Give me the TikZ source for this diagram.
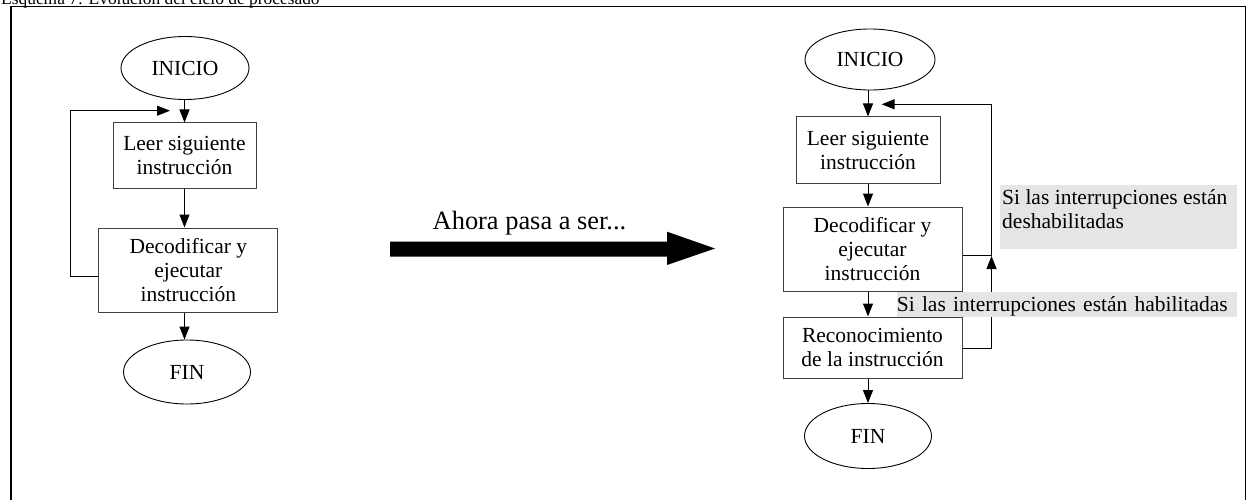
\documentclass[tikz,border=0pt]{standalone}
\usepackage{fontspec}
\setmainfont{Liberation Serif}
\usetikzlibrary{shapes.geometric,arrows.meta}

\newcommand{\flowfont}{\fontsize{21.5}{24}\selectfont}

\tikzset{
  stepbox/.style={draw=black!75, line width=1pt, rectangle, inner sep=0pt,
    align=center, font=\flowfont},
  term/.style={draw=black, line width=0.9pt, ellipse, inner sep=0pt, font=\flowfont},
  flow/.style={draw=black, line width=1pt, -{Triangle[length=13pt,width=10pt]}},
  note/.style={fill=gray!20, inner sep=0pt},
}

\begin{document}
\begin{tikzpicture}[x=1pt,y=-1pt]
\useasboundingbox (0,0) rectangle (1247,500);
\clip (0,0) rectangle (1247,500);

% caption above the frame
\node[anchor=base west, inner sep=0pt, font=\fontsize{17.4}{20}\selectfont]
  (caption) at (1,4.5) {Esquema 7: Evolución del ciclo de procesado};

% open frame
\draw[line width=1.2pt] (11,520) -- (11,6.5) -- (1245.5,6.5) -- (1245.5,520);

% ---------- original cycle ----------
\node[term, minimum width=128pt, minimum height=63pt] (ini1) at (185,68) {INICIO};
\node[stepbox, minimum width=143pt, minimum height=65pt] (leer1) at (184.5,155.5)
  {Leer siguiente\\instrucción};
\node[stepbox, minimum width=179pt, minimum height=84pt] (dec1) at (188.3,270)
  {Decodificar y\\ejecutar\\instrucción};
\node[term, minimum width=127pt, minimum height=64pt] (fin1) at (187,372) {FIN};

\draw[flow] (leer1.north |- ini1.south) -- (leer1.north);
\draw[flow] (leer1.south) -- (leer1.south |- dec1.north);
\draw[flow] (leer1.south |- dec1.south) -- (leer1.south |- fin1.north);

\coordinate (cornerL) at (70.7,110.7);
\coordinate (back1) at (170,110.7);
\draw[flow] ([yshift=-6pt]dec1.west) -| (cornerL) -- (back1);

% ---------- transition arrow ----------
\node[anchor=base, inner sep=0pt, font=\fontsize{26.4}{30}\selectfont]
  (ahora) at (529.5,229.3) {Ahora pasa a ser...};
\fill[black] (390,241.7) -- (667,241.7) -- (667,231.7) -- (715,248.5)
  -- (667,265) -- (667,256.7) -- (390,256.7) -- cycle;

% ---------- cycle with interrupts ----------
\node[term, minimum width=130pt, minimum height=61pt] (ini2) at (870,59.5) {INICIO};
\node[stepbox, minimum width=144pt, minimum height=66pt] (leer2) at (868,150)
  {Leer siguiente\\instrucción};
\node[stepbox, minimum width=179pt, minimum height=84pt] (dec2) at (872.5,249)
  {Decodificar y\\ejecutar\\instrucción};
\node[stepbox, minimum width=179pt, minimum height=61pt] (rec2) at (872.5,347.5)
  {Reconocimiento\\de la instrucción};
\node[term, minimum width=127pt, minimum height=65pt] (fin2) at (868,436) {FIN};

\draw[flow] (leer2.north |- ini2.south) -- (leer2.north);
\draw[flow] (leer2.south) -- (leer2.south |- dec2.north);
\draw[flow] (leer2.south |- dec2.south) -- (leer2.south |- rec2.north);
\draw[flow] (leer2.south |- rec2.south) -- (leer2.south |- fin2.north);

\coordinate (cornerR) at (991.5,104.3);
\coordinate (back2) at (881.7,104.3);
\coordinate (join) at (991.5,256);
\draw[flow] ([yshift=-6pt]dec2.east) -| (cornerR) -- (back2);
\draw[flow] ([yshift=-1pt]rec2.east) -| (join);

% condition labels
\node[note, anchor=north west, minimum width=237pt, minimum height=64pt]
  (desbox) at (1000,185) {};
\node[anchor=north west, inner sep=0pt, align=left, font=\flowfont]
  (destext) at ([xshift=2pt,yshift=-4pt]desbox.north west)
  {Si las interrupciones están\\deshabilitadas};
\node[note, anchor=north west, text width=340pt, align=left, font=\flowfont,
  text height=20pt, text depth=5pt] (hab) at (896.7,291.7)
  {Si las interrupciones están habilitadas};
\end{tikzpicture}
\end{document}
